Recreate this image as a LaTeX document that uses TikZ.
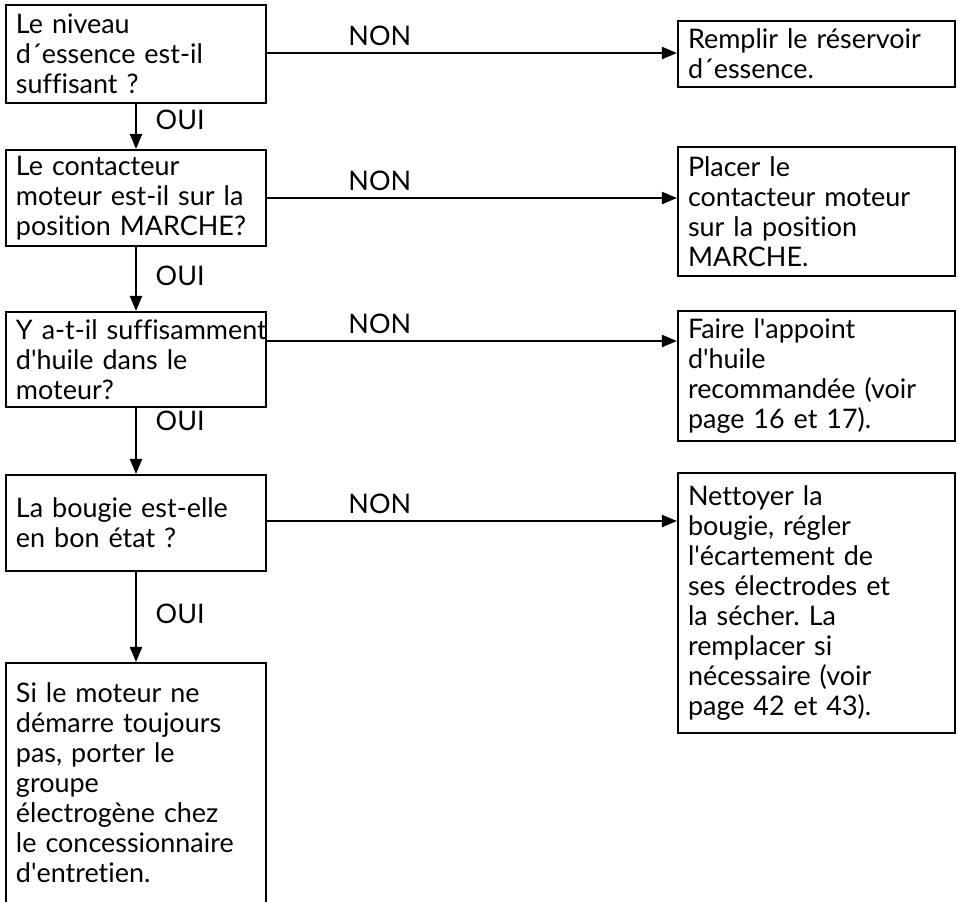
\documentclass[tikz,border=0pt]{standalone}
\usepackage{fontspec}
\setmainfont{Lato}[Ligatures=NoCommon]
\usetikzlibrary{arrows.meta}
\newcommand{\apos}{\textquotesingle}

\begin{document}
\frenchspacing
\begin{tikzpicture}[
    x=0.75pt, y=-0.75pt,
    question/.style={rectangle, draw=black, line width=1.6pt, text width=180pt, inner xsep=7.5pt, inner ysep=0pt, align=left, font=\fontsize{20.2}{22.5}\selectfont},
    action/.style={rectangle, draw=black, line width=1.6pt, text width=192.75pt, inner xsep=7.5pt, inner ysep=0pt, align=left, font=\fontsize{20.2}{22.5}\selectfont},
    fleche/.style={draw=black, line width=1.6pt, -{Triangle[length=11.25pt, width=9pt]}},
    nonlabel/.style={font=\fontsize{20.2}{22.5}\selectfont, anchor=south, inner sep=5pt},
    ouilabel/.style={font=\fontsize{20.2}{22.5}\selectfont, anchor=west, inner sep=0pt, xshift=14pt}
]

\useasboundingbox (0,0) rectangle (958,901);
\fill[white] (0,0) rectangle (958,901);
\clip (0,0) rectangle (958,901);

% questions, colonne de gauche
\node[question, minimum height=73.5pt] (essence) at (136,54) {Le niveau\\d´essence est-il\\suffisant ?};
\node[question, minimum height=72pt] (contact) at (136,198) {Le contacteur\\moteur est-il sur la\\position MARCHE?};
\node[question, minimum height=71.25pt] (huile) at (136,359.5) {\mbox{Y a-t-il suffisamment}\\d\apos huile dans le\\moteur?};
\node[question, minimum height=72pt] (bougie) at (136,523) {La bougie est-elle\\en bon état ?};
\node[question, minimum height=180pt] (garage) at (136,783) {Si le moteur ne\\démarre toujours\\pas, porter le\\groupe\\électrogène chez\\le concessionnaire\\d\apos entretien.};

% actions, colonne de droite
\node[action, minimum height=49.5pt] (remplir) at (816.5,54) {Remplir le réservoir\\d´essence.};
\node[action, minimum height=96.75pt] (placer) at (816.5,211.5) {Placer le\\contacteur moteur\\sur la position\\MARCHE.};
\node[action, minimum height=97.5pt] (appoint) at (816.5,376) {Faire l\apos appoint\\d\apos huile\\recommandée (voir\\page 16 et 17).};
\node[action, minimum height=195pt] (nettoyer) at (816.5,603) {Nettoyer la\\bougie, régler\\l\apos écartement de\\ses électrodes et\\la sécher. La\\remplacer si\\nécessaire (voir\\page 42 et 43).};

% reponses NON
\coordinate (non1) at (essence.east |- 0,53);
\coordinate (non2) at (contact.east |- 0,198);
\coordinate (non3) at (huile.east |- 0,341);
\coordinate (non4) at (bougie.east |- 0,521);
\draw[fleche] (non1) -- (non1 -| remplir.west) node[nonlabel, pos=0.275] {NON};
\draw[fleche] (non2) -- (non2 -| placer.west) node[nonlabel, pos=0.275] {NON};
\draw[fleche] (non3) -- (non3 -| appoint.west) node[nonlabel, pos=0.275] {NON};
\draw[fleche] (non4) -- (non4 -| nettoyer.west) node[nonlabel, pos=0.275] {NON};

% reponses OUI
\draw[fleche] (essence) -- (contact) node[ouilabel, pos=0.36] {OUI};
\draw[fleche] (contact) -- (huile) node[ouilabel, pos=0.45] {OUI};
\draw[fleche] (huile) -- (bougie) node[ouilabel, pos=0.2] {OUI};
\draw[fleche] (bougie) -- (garage) node[ouilabel, pos=0.46] {OUI};

\end{tikzpicture}
\end{document}
